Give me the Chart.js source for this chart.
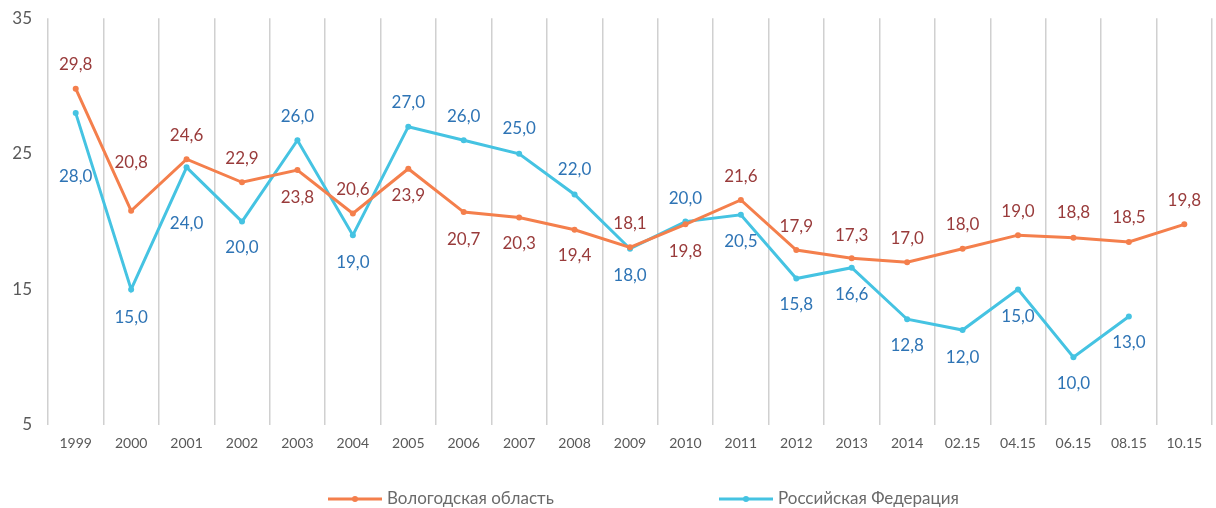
<!DOCTYPE html>
<html>
<head>
<meta charset="utf-8">
<script src="https://cdn.jsdelivr.net/npm/chart.js@4.4.0/dist/chart.umd.min.js"></script>
<style>
  html, body { margin: 0; padding: 0; background: #fff; }
  #wrap { width: 1216px; height: 508px; position: relative; }
</style>
</head>
<body>
<div id="wrap"><canvas id="chart1"></canvas></div>
<script>
let categories = ['1999', '2000', '2001', '2002', '2003', '2004', '2005', '2006', '2007', '2008',
  '2009', '2010', '2011', '2012', '2013', '2014', '02.15', '04.15', '06.15', '08.15', '10.15'];

let vologdaValues = [29.8, 20.8, 24.6, 22.9, 23.8, 20.6, 23.9, 20.7, 20.3, 19.4,
  18.1, 19.8, 21.6, 17.9, 17.3, 17.0, 18.0, 19.0, 18.8, 18.5, 19.8];

let russiaValues = [28.0, 15.0, 24.0, 20.0, 26.0, 19.0, 27.0, 26.0, 25.0, 22.0,
  18.0, 20.0, 20.5, 15.8, 16.6, 12.8, 12.0, 15.0, 10.0, 13.0, null];

let yTicks = [5, 15, 25, 35];

// vertical shift of each value label from its point, in px (negative = above)
let vologdaLabelShift = [-24, -48, -24, -24, 27, -24, 27, 27, 26, 26,
  -24, 27, -23, -24, -23, -24, -24, -24, -25, -24, -24];
let russiaLabelShift = [63, 28, 56, 26, -24, 27, -24, -24, -25, -25,
  27, -23, 27, 26, 27, 26, 27, 27, 26, 26, 0];

const FONT = 'Lato, "Open Sans", sans-serif';

function fmt(v){
  return v.toFixed(1).replace('.', ',');
}

// draws the value labels next to the points
const valueLabels = {
  id: 'valueLabels',
  afterDatasetsDraw(chart){
    const ctx = chart.ctx;
    ctx.save();
    ctx.font = '17px ' + FONT;
    ctx.textAlign = 'center';
    ctx.textBaseline = 'middle';
    chart.data.datasets.forEach(function(ds, di){
      const meta = chart.getDatasetMeta(di);
      meta.data.forEach(function(pt, i){
        const v = ds.data[i];
        if (v === null || v === undefined) return;
        ctx.fillStyle = ds.labelColor;
        ctx.fillText(fmt(v), pt.x, pt.y + ds.labelShift[i]);
      });
    });
    ctx.restore();
  }
};

// legend with a line and a dot, items spread wide like the original
const wideLegend = {
  id: 'wideLegend',
  afterDraw(chart){
    const ctx = chart.ctx;
    const starts = [328, 719];
    const y = 499;
    ctx.save();
    ctx.font = '17px ' + FONT;
    ctx.textBaseline = 'middle';
    ctx.textAlign = 'left';
    chart.data.datasets.forEach(function(ds, i){
      const x = starts[i];
      ctx.strokeStyle = ds.borderColor;
      ctx.lineWidth = 3;
      ctx.beginPath();
      ctx.moveTo(x, y);
      ctx.lineTo(x + 54, y);
      ctx.stroke();
      ctx.fillStyle = ds.borderColor;
      ctx.beginPath();
      ctx.arc(x + 27, y, 3, 0, Math.PI * 2);
      ctx.fill();
      ctx.fillStyle = '#6A6A6A';
      ctx.fillText(ds.label, x + 59, y);
    });
    ctx.restore();
  }
};

var ctx = document.getElementById('chart1').getContext('2d');
var myChart = new Chart(ctx, {
  type: 'line',
  data: {
    labels: categories,
    datasets: [
      {
        label: 'Вологодская область',
        data: vologdaValues,
        borderColor: '#F47F4C',
        backgroundColor: '#F47F4C',
        borderWidth: 3,
        pointRadius: 3,
        pointBorderWidth: 0,
        pointBackgroundColor: '#F47F4C',
        tension: 0,
        labelColor: '#993B3B',
        labelShift: vologdaLabelShift,
      },
      {
        label: 'Российская Федерация',
        data: russiaValues,
        borderColor: '#45C3E2',
        backgroundColor: '#45C3E2',
        borderWidth: 3,
        pointRadius: 3,
        pointBorderWidth: 0,
        pointBackgroundColor: '#45C3E2',
        tension: 0,
        labelColor: '#2E74B5',
        labelShift: russiaLabelShift,
      },
    ],
  },
  options: {
    responsive: true,
    maintainAspectRatio: false,
    animation: false,
    layout: { padding: { top: 9, right: 0, left: 0, bottom: 43 } },
    plugins: {
      tooltip: { enabled: false },
      legend: { display: false },
    },
    scales: {
      x: {
        offset: true,
        grid: { display: true, offset: true, color: '#D0D0D0', lineWidth: 1.5, drawTicks: false },
        border: { display: false },
        ticks: { color: '#595959', font: { family: FONT, size: 14 }, padding: 10, maxRotation: 0, autoSkip: false },
        afterFit: function(scale){ scale.height = 40; },
      },
      y: {
        min: 5,
        max: 35,
        grid: { display: false },
        border: { display: false },
        afterBuildTicks: function(scale){ scale.ticks = yTicks.map(function(v){ return { value: v }; }); },
        ticks: { color: '#595959', font: { family: FONT, size: 17 }, padding: 8 },
        afterFit: function(scale){ scale.width = 48; },
      },
    },
  },
  plugins: [valueLabels, wideLegend],
});
</script>
</body>
</html>
